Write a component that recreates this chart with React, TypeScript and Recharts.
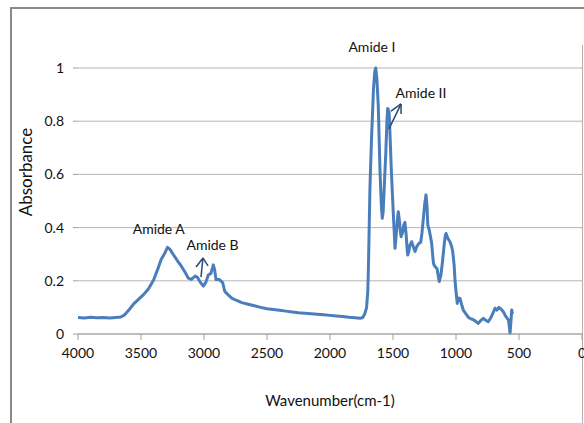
import React from 'react';
import { LineChart, Line, XAxis, YAxis, CartesianGrid, ReferenceLine, ReferenceDot, Label } from 'recharts';

const wavenumbers = [
  4000, 3950, 3900, 3850, 3800, 3750, 3700, 3660, 3630, 3600, 3560, 3520, 3480, 3440, 3400, 3370, 3340, 3310,
  3290, 3270, 3240, 3210, 3180, 3150, 3125, 3100, 3070, 3050, 3030, 3005, 2985, 2966, 2945, 2926, 2915, 2905,
  2880, 2852, 2835, 2810, 2780, 2740, 2700, 2650, 2600, 2550, 2500, 2450, 2400, 2350, 2300, 2250, 2200, 2150,
  2100, 2050, 2000, 1950, 1900, 1850, 1800, 1760, 1740, 1725, 1710, 1700, 1695, 1683, 1670, 1655, 1645, 1637,
  1628, 1617, 1603, 1592, 1585, 1578, 1565, 1558, 1548, 1542, 1535, 1531, 1522, 1515, 1505, 1497, 1490, 1484,
  1475, 1465, 1458, 1450, 1443, 1436, 1425, 1415, 1405, 1395, 1388, 1383, 1375, 1365, 1352, 1340, 1325, 1310,
  1295, 1280, 1270, 1259, 1248, 1238, 1230, 1224, 1212, 1200, 1193, 1180, 1175, 1160, 1150, 1140, 1133, 1120,
  1106, 1095, 1085, 1079, 1065, 1048, 1035, 1026, 1015, 1008, 1000, 990, 980, 968, 955, 942, 920, 900, 889, 870,
  850, 823, 805, 783, 765, 744, 725, 705, 690, 675, 660, 651, 635, 620, 611, 595, 584, 577, 571, 565, 558, 552,
];

const absorbance = [
  0.062, 0.06, 0.063, 0.061, 0.062, 0.06, 0.062, 0.064, 0.072, 0.088, 0.112, 0.13, 0.148, 0.17, 0.203, 0.24, 0.28, 0.305,
  0.326, 0.318, 0.296, 0.275, 0.255, 0.232, 0.21, 0.205, 0.218, 0.212, 0.195, 0.18, 0.195, 0.222, 0.228, 0.26, 0.24, 0.205,
  0.205, 0.193, 0.16, 0.148, 0.135, 0.126, 0.118, 0.112, 0.106, 0.1, 0.095, 0.092, 0.089, 0.086, 0.083, 0.08, 0.078, 0.076,
  0.074, 0.072, 0.07, 0.068, 0.066, 0.063, 0.061, 0.059, 0.062, 0.075, 0.098, 0.16, 0.25, 0.55, 0.74, 0.92, 0.985, 1.0,
  0.96, 0.86, 0.61, 0.48, 0.435, 0.46, 0.6, 0.67, 0.8, 0.848, 0.84, 0.836, 0.73, 0.635, 0.53, 0.447, 0.38, 0.322,
  0.37, 0.43, 0.46, 0.43, 0.39, 0.366, 0.38, 0.41, 0.42, 0.37, 0.32, 0.297, 0.31, 0.335, 0.347, 0.33, 0.31, 0.33,
  0.34, 0.345, 0.38, 0.435, 0.49, 0.523, 0.48, 0.41, 0.39, 0.36, 0.34, 0.27, 0.26, 0.25, 0.245, 0.215, 0.197, 0.22,
  0.278, 0.33, 0.37, 0.378, 0.36, 0.347, 0.33, 0.31, 0.26, 0.203, 0.16, 0.115, 0.135, 0.134, 0.11, 0.09, 0.075, 0.062, 0.059, 0.055,
  0.05, 0.04, 0.05, 0.059, 0.052, 0.046, 0.06, 0.08, 0.097, 0.09, 0.1, 0.097, 0.09, 0.08, 0.071, 0.06, 0.053, 0.03, 0.003, 0.04, 0.09, 0.075,
];

const xTicks = [4000, 3500, 3000, 2500, 2000, 1500, 1000, 500, 0];
const yTicks = [0, 0.2, 0.4, 0.6, 0.8, 1];

const annotationTexts = ['Amide I', 'Amide II', 'Amide A', 'Amide B'];
const annotationX = [1667, 1278, 3359, 2932];
const annotationY = [1.079, 0.906, 0.395, 0.335];

// arrow segments [x1, y1, x2, y2] in data units
const arrowSegments = [
  [1532, 0.771, 1436, 0.865],
  [1436, 0.865, 1516, 0.838],
  [1436, 0.865, 1436, 0.827],
  [3024, 0.214, 3008, 0.286],
  [3008, 0.286, 3063, 0.252],
  [3008, 0.286, 2968, 0.256],
];

const data = wavenumbers.map((w, i) => ({ w, a: absorbance[i] }));

const FONT = 'Lato, "Open Sans", sans-serif';
const TEXT = '#111';

const YTitle = (props: any) => {
  const vb = props.viewBox || { x: 0, y: 0, width: 0, height: 0 };
  const cx = vb.x + 25;
  const cy = vb.y + vb.height / 2 - 29;
  return (
    <text x={cx} y={cy} transform={`rotate(-90, ${cx}, ${cy})`} textAnchor="middle" dominantBaseline="central"
      fontFamily={FONT} fontSize={17} fill={TEXT}>Absorbance</text>
  );
};

export default function App() {
  return (
    <div style={{ position: 'absolute', left: 0, top: 0, width: 584, height: 423, background: '#fff', overflow: 'hidden' }}>
      <div style={{ position: 'absolute', left: 10, top: 7, width: 600, height: 430, borderLeft: '2px solid #8a8a8a', borderTop: '2px solid #8a8a8a' }} />
      <div style={{ position: 'absolute', left: 582, top: 45, width: 0, height: 400, borderLeft: '1px solid #b0b0b0' }} />
      <div style={{ position: 'absolute', left: 0, top: 0 }}>
        <LineChart width={584} height={423} data={data} margin={{ top: 68, right: 2, left: 0, bottom: 14 }}>
          <CartesianGrid vertical={false} stroke="#b5b5b5" strokeWidth={1} />
          <XAxis dataKey="w" type="number" domain={[0, 4000]} reversed ticks={xTicks} interval={0}
            height={75} tickSize={6} tickMargin={8} stroke="#a0a0a0" allowDataOverflow
            tick={{ fill: TEXT, fontSize: 14, fontFamily: FONT }}>
            <Label value="Wavenumber(cm-1)" position="insideBottom" offset={3} fill={TEXT} fontSize={15} fontFamily={FONT} />
          </XAxis>
          <YAxis type="number" domain={[0, 1]} ticks={yTicks} interval={0} width={78} tickSize={5} tickMargin={9}
            axisLine={false} tickLine={{ stroke: '#a0a0a0' }} tick={{ fill: TEXT, fontSize: 14, fontFamily: FONT }}
            tickFormatter={(v: number) => String(v)}>
            <Label content={YTitle} />
          </YAxis>
          <Line type="linear" dataKey="a" stroke="#4a7ebb" strokeWidth={3} dot={false} activeDot={false}
            isAnimationActive={false} strokeLinejoin="round" />
          {arrowSegments.map((s, i) => (
            <ReferenceLine key={'s' + i} segment={[{ x: s[0], y: s[1] }, { x: s[2], y: s[3] }]} stroke="#2a4a78"
              strokeWidth={1.5} ifOverflow="visible" />
          ))}
          {annotationTexts.map((t, i) => (
            <ReferenceDot key={'t' + i} x={annotationX[i]} y={annotationY[i]} r={0} fill="none" stroke="none"
              ifOverflow="visible"
              label={{ value: t, position: 'center', fill: TEXT, fontSize: 14, fontFamily: FONT }} />
          ))}
        </LineChart>
      </div>
    </div>
  );
}
